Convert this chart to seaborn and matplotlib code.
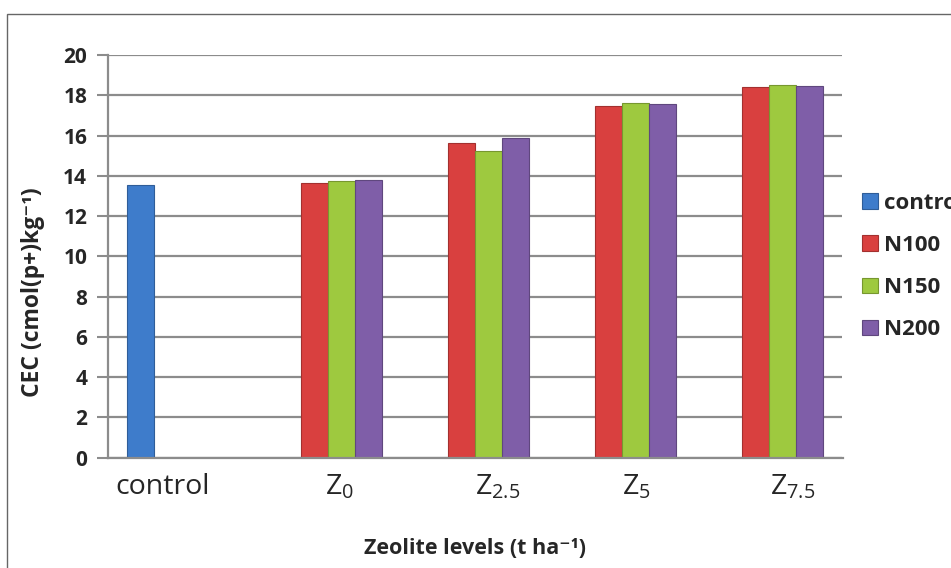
import matplotlib
matplotlib.use("Agg")
import matplotlib.pyplot as plt
import matplotlib.transforms as mtrans
import seaborn as sns
import pandas as pd
from matplotlib.patches import Rectangle

# ---- data ----
categories = ["control", "Z0", "Z2.5", "Z5", "Z7.5"]
tick_labels = ["control", r"$\mathregular{Z_{0}}$", r"$\mathregular{Z_{2.5}}$",
               r"$\mathregular{Z_{5}}$", r"$\mathregular{Z_{7.5}}$"]
series = ["control", "N100", "N150", "N200"]
control_vals = [13.55]
n100_vals = [13.65, 15.63, 17.48, 18.40]
n150_vals = [13.74, 15.24, 17.60, 18.51]
n200_vals = [13.80, 15.87, 17.55, 18.46]
colors = ["#3e7ccb", "#d9403f", "#9ec93f", "#7f5ea8"]

rows = [{"cat": categories[0], "series": "control", "val": control_vals[0]}]
for s, vals in zip(series[1:], [n100_vals, n150_vals, n200_vals]):
    for c, v in zip(categories[1:], vals):
        rows.append({"cat": c, "series": s, "val": v})
df = pd.DataFrame(rows)

sns.set_theme(style="white")
plt.rcParams["font.family"] = ["Open Sans", "DejaVu Sans"]
plt.rcParams["mathtext.default"] = "regular"

fig = plt.figure(figsize=(9.51, 5.68), dpi=100)
ax = fig.add_axes([108 / 951, 1 - 457.7 / 568, (842.5 - 108) / 951, (457.7 - 55) / 568])

sns.barplot(data=df, x="cat", y="val", hue="series", order=categories,
            hue_order=series, palette=dict(zip(series, colors)),
            width=4 * 27 / 147, gap=0, dodge=True, ax=ax, linewidth=0.8,
            edgecolor="none", errorbar=None, saturation=1)

# subtle darker outline for bevel look
for p in ax.patches:
    fc = p.get_facecolor()
    p.set_edgecolor((fc[0] * 0.75, fc[1] * 0.75, fc[2] * 0.75, 1))

ax.set_xlim(-0.5, 4.5)
ax.set_ylim(0, 20)
ax.set_yticks(range(0, 21, 2))
ax.set_yticklabels([str(v) for v in range(0, 21, 2)], fontsize=15, fontweight="bold")
ax.set_xticks(range(5))
ax.set_xticklabels([])
ax.tick_params(axis="x", length=0)
ax.tick_params(axis="y", length=8, width=1.5, color="#8c8c8c", direction="out", pad=7)
ax.yaxis.set_ticks_position("left")
ax.grid(axis="y", color="#8c8c8c", linewidth=1.6)
ax.set_axisbelow(True)
for side in ["top", "right"]:
    ax.spines[side].set_visible(False)
for side in ["left", "bottom"]:
    ax.spines[side].set_color("#8c8c8c")
    ax.spines[side].set_linewidth(1.6)

# category labels, shifted as in the original (pixel offsets)
label_shift_px = [-19, 11, 22, 14, 24]
trans = mtrans.blended_transform_factory(ax.transData, ax.transAxes)
for i, (lab, dx) in enumerate(zip(tick_labels, label_shift_px)):
    t = trans + mtrans.ScaledTranslation(dx / 100, 0, fig.dpi_scale_trans)
    ax.text(i, -0.038, lab, transform=t, ha="center", va="top", fontsize=20.5)

ax.set_xlabel("")
ax.set_ylabel("")
fig.text(475 / 951, 1 - 549 / 568, "Zeolite levels (t ha⁻¹)", ha="center", va="center",
         fontsize=15.5, fontweight="bold")
fig.text(33 / 951, 1 - 292 / 568, "CEC (cmol(p+)kg⁻¹)", ha="center", va="center",
         rotation=90, fontsize=16.5, fontweight="bold")

handles, labels = ax.get_legend_handles_labels()
ax.legend(handles, labels, loc="upper left", bbox_to_anchor=(862 / 951, 1 - 193 / 568),
          bbox_transform=fig.transFigure, frameon=False,
          prop={"weight": "bold", "size": 16}, handlelength=0.72, handleheight=0.72,
          handletextpad=0.28, labelspacing=0.95, borderpad=0, borderaxespad=0)

# outer frame
fig.patches.append(Rectangle((7 / 951, -0.1), 1.2, 1.1 - 14 / 568,
                             transform=fig.transFigure, fill=False,
                             edgecolor="#666666", linewidth=1))

fig.savefig("out.png", dpi=100)
